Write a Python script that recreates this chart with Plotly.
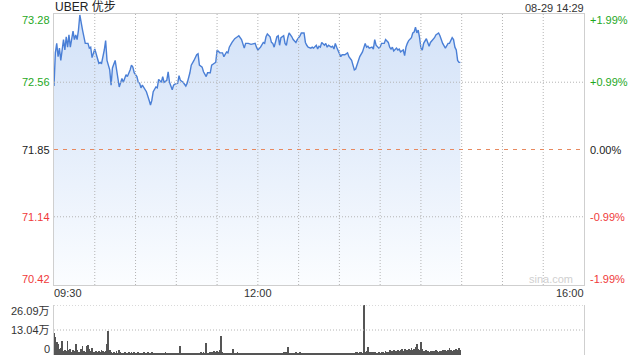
import plotly.graph_objects as go

# ---------------- data ----------------
TITLE = "UBER 优步"
STAMP = "08-29 14:29"
PREV_CLOSE = 71.85

# minutes after 09:30 and last price
TIME_MIN = [0, 1, 2, 3, 4, 5, 7, 8, 9, 10, 11, 12, 14, 15, 16, 17, 18, 19, 21, 22,
            23, 25, 26, 27, 28, 30, 31, 33, 34, 35, 37, 38, 39, 41, 42, 43, 45, 46, 47, 48,
            50, 51, 53, 54, 56, 57, 58, 59, 61, 62, 63, 64, 65, 67, 68, 70, 71, 72, 73, 75,
            76, 77, 79, 80, 81, 83, 84, 85, 87, 88, 89, 91, 92, 93, 95, 97, 98, 100, 101, 103,
            105, 106, 107, 109, 110, 112, 113, 115, 116, 118, 119, 120, 122, 123, 124, 125, 127, 128, 129, 131,
            133, 135, 136, 138, 139, 140, 141, 143, 145, 147, 148, 149, 150, 152, 154, 155, 156, 157, 159, 160,
            161, 162, 164, 165, 166, 167, 169, 170, 171, 172, 173, 175, 176, 178, 179, 181, 182, 184, 185, 186,
            187, 189, 190, 191, 193, 194, 195, 196, 197, 199, 200, 201, 202, 204, 205, 206, 207, 208, 210, 211,
            212, 214, 216, 217, 219, 220, 221, 222, 224, 225, 227, 229, 230, 231, 232, 234, 235, 236, 237, 239,
            240, 241, 243, 244, 246, 247, 248, 249, 250, 252, 253, 254, 255, 257, 258, 259, 260, 261, 263, 264,
            265, 266, 267, 268, 269, 270, 271, 272, 274, 275, 276, 277, 279, 280, 281, 283, 284, 285, 286, 288,
            289, 290, 291, 293, 294, 295, 296, 297, 298, 299]
PRICES = [72.52, 72.87, 72.97, 72.83, 72.92, 72.79, 73.01, 72.90, 73.04, 72.93, 73.06, 72.93, 73.10, 73.01, 73.06, 73.01, 73.11, 73.27, 73.11, 73.04,
          72.97, 72.97, 72.92, 72.93, 72.82, 72.91, 72.85, 72.76, 72.77, 72.76, 72.90, 73.00, 72.79, 72.69, 72.53, 72.71, 72.79, 72.69, 72.60, 72.51,
          72.60, 72.56, 72.64, 72.62, 72.69, 72.74, 72.72, 72.66, 72.62, 72.56, 72.55, 72.50, 72.53, 72.48, 72.46, 72.37, 72.32, 72.37, 72.46, 72.51,
          72.50, 72.59, 72.56, 72.62, 72.56, 72.58, 72.67, 72.56, 72.48, 72.53, 72.54, 72.55, 72.63, 72.58, 72.56, 72.52, 72.55, 72.66, 72.74, 72.79,
          72.85, 72.86, 72.74, 72.72, 72.67, 72.62, 72.66, 72.66, 72.74, 72.76, 72.77, 72.90, 72.87, 72.87, 72.87, 72.83, 72.88, 72.87, 72.93, 72.98,
          73.02, 73.04, 73.05, 73.01, 72.97, 72.92, 72.97, 72.97, 72.96, 72.97, 72.97, 72.93, 72.90, 72.93, 72.98, 72.97, 73.04, 73.07, 73.04, 72.98,
          72.97, 72.93, 73.04, 73.05, 72.95, 73.03, 73.05, 72.97, 72.95, 73.03, 73.08, 73.04, 73.01, 72.98, 73.01, 73.05, 73.08, 73.08, 72.98, 72.95,
          72.93, 72.92, 72.93, 72.92, 72.95, 72.91, 72.94, 72.93, 72.98, 72.95, 72.97, 72.93, 72.95, 72.93, 72.94, 72.91, 72.97, 72.93, 72.85, 72.83,
          72.85, 72.85, 72.87, 72.83, 72.79, 72.74, 72.69, 72.70, 72.79, 72.83, 72.88, 72.97, 72.93, 72.94, 72.92, 72.93, 72.91, 73.01, 72.95, 72.92,
          72.93, 72.97, 72.97, 73.01, 72.98, 72.93, 72.91, 72.93, 72.89, 72.92, 72.90, 72.91, 72.88, 72.90, 72.84, 72.93, 72.97, 73.00, 73.03, 73.08,
          73.09, 73.14, 73.08, 73.11, 73.03, 72.92, 72.90, 72.97, 73.02, 72.97, 72.94, 72.98, 73.01, 73.03, 73.06, 73.08, 73.05, 73.01, 72.97, 72.92,
          72.95, 72.97, 72.97, 73.03, 73.01, 72.93, 72.90, 72.79, 72.77, 72.77]

# volume per minute (unit: 万 shares), minutes 0..299
VOLUME_WAN = [
    11.6, 9.5, 6.8, 6.0, 3.2, 3.8, 7.3, 2.3, 2.7, 2.0,
    7.3, 2.5, 3.2, 1.4, 2.7, 2.3, 5.5, 2.7, 1.8, 1.4,
    3.2, 4.5, 2.0, 1.4, 4.5, 5.0, 3.0, 2.0, 3.8, 1.6,
    1.4, 2.0, 1.6, 2.0, 1.4, 2.7, 2.0, 1.5, 2.0, 5.5,
    12.7, 2.7, 1.4, 1.2, 1.8, 1.0, 2.2, 1.2, 2.4, 1.8,
    1.0, 1.3, 1.6, 0.8, 1.2, 1.8, 1.0, 1.4, 1.1, 1.6,
    1.0, 1.2, 1.5, 0.9, 1.3, 1.0, 1.7, 1.2, 0.9, 1.4,
    1.1, 1.0, 1.5, 0.8, 1.2, 1.1, 0.9, 1.3, 1.0, 1.2,
    0.9, 1.1, 1.4, 1.0, 0.8, 1.2, 1.0, 0.9, 1.3, 1.1,
    1.0, 0.8, 1.2, 4.5, 1.0, 1.2, 0.7, 0.9, 0.6, 1.0,
    0.8, 1.1, 0.9, 1.3, 0.8, 1.0, 1.2, 0.9, 1.4, 1.1,
    1.6, 1.2, 6.3, 1.3, 1.0, 1.5, 1.8, 1.2, 2.0, 1.5,
    2.2, 1.6, 2.4, 9.8, 1.5, 1.2, 1.0, 0.8, 1.0, 1.2,
    0.9, 1.3, 3.2, 1.0, 1.2, 1.5, 0.9, 1.0, 0.8, 1.0,
    1.1, 0.7, 0.9, 0.8, 1.2, 0.7, 1.0, 0.6, 0.9, 0.8,
    1.0, 0.7, 0.8, 1.1, 0.6, 1.0, 1.3, 0.8, 1.0, 0.7,
    0.9, 0.8, 1.2, 0.7, 1.0, 0.9, 1.1, 0.8, 1.3, 1.5,
    1.2, 1.6, 4.0, 1.2, 0.9, 1.0, 1.3, 0.8, 1.6, 1.2,
    1.0, 1.5, 1.2, 0.8, 1.0, 0.9, 1.1, 0.7, 0.9, 1.0,
    0.8, 1.2, 0.7, 0.9, 1.0, 0.8, 1.1, 0.6, 0.9, 0.8,
    1.0, 0.7, 0.9, 1.2, 0.8, 1.0, 0.7, 0.9, 1.1, 0.8,
    1.0, 0.8, 1.2, 0.9, 0.7, 1.0, 1.3, 0.8, 1.1, 0.9,
    1.2, 1.0, 1.4, 1.6, 1.2, 1.8, 1.5, 1.3, 26.09, 1.6,
    2.0, 4.1, 1.5, 1.8, 1.2, 1.4, 1.6, 1.0, 1.3, 1.6,
    1.2, 1.5, 1.8, 1.3, 2.0, 1.6, 1.4, 2.4, 1.8, 2.2,
    2.6, 1.9, 2.3, 2.8, 2.0, 2.4, 2.9, 2.2, 3.2, 2.6,
    2.4, 3.0, 2.7, 3.6, 2.5, 3.3, 4.0, 5.9, 3.0, 2.6,
    6.6, 3.0, 2.2, 2.0, 2.4, 2.1, 1.8, 2.3, 2.0, 2.2,
    1.9, 2.4, 2.1, 1.8, 2.3, 2.0, 2.5, 2.2, 2.6, 2.0,
    2.4, 3.5, 2.6, 2.2, 2.8, 2.4, 3.0, 2.6, 3.9, 2.8,
]
VOLUME_MIN = list(range(len(VOLUME_WAN)))

PRICE_TICKS = [73.28, 72.56, 71.85, 71.14, 70.42]
PCT_LABELS = ["+1.99%", "+0.99%", "0.00%", "-0.99%", "-1.99%"]
VOL_TICKS = [26.09, 13.04, 0]
VOL_LABELS = ["26.09万", "13.04万", "0"]
TIME_TICK_MIN = [0, 150, 390]
TIME_LABELS = ["09:30", "12:00", "16:00"]
SESSION_MIN = 390
GRID_STEP_MIN = 30

# ---------------- style ----------------
FONT = "Liberation Sans, Arial, Noto Sans CJK SC, sans-serif"
GREEN = "#1ea81e"
RED = "#f03a3a"
DARK = "#222222"
BORDER = "#cfcfcf"
GRID = "#b4b4b4"
DOT = "1px,2px"

fig = go.Figure()
fig.add_trace(go.Scatter(
    x=TIME_MIN, y=PRICES, mode="lines",
    line=dict(color="#4a7fd6", width=1.4),
    fill="tozeroy",
    fillgradient=dict(type="vertical",
                      colorscale=[[0, "#fbfdff"], [0.5, "#e5eefb"], [1, "#d3e2f8"]],
                      start=PRICE_TICKS[-1], stop=PRICE_TICKS[0]),
    xaxis="x", yaxis="y", hoverinfo="skip"))
fig.add_trace(go.Bar(
    x=VOLUME_MIN, y=VOLUME_WAN, width=0.6,
    marker=dict(color="#555555", line=dict(width=0)),
    xaxis="x2", yaxis="y2", hoverinfo="skip"))

price_bottom = 70 / 341
vol_top = 50 / 341

fig.update_layout(
    width=640, height=360,
    margin=dict(l=54, r=56, t=14, b=5),
    paper_bgcolor="white", plot_bgcolor="rgba(0,0,0,0)",
    showlegend=False, bargap=0,
    font=dict(family=FONT, size=11, color=DARK),
    xaxis=dict(domain=[0, 1], range=[0, SESSION_MIN], anchor="y",
               showgrid=False, showticklabels=False, ticks="", zeroline=False,
               showline=True, linecolor=BORDER, linewidth=1, mirror=True),
    yaxis=dict(domain=[price_bottom, 1], range=[PRICE_TICKS[-1], PRICE_TICKS[0]],
               showgrid=False, showticklabels=False, ticks="", zeroline=False,
               showline=True, linecolor=BORDER, linewidth=1, mirror=True),
    xaxis2=dict(domain=[0, 1], range=[0, SESSION_MIN], anchor="y2",
                showgrid=False, showticklabels=False, ticks="",
                zeroline=False, showline=False),
    yaxis2=dict(domain=[0, vol_top], range=[0, VOL_TICKS[0]],
                showgrid=False, showticklabels=False, ticks="", zeroline=False,
                showline=True, linecolor=BORDER, linewidth=1, mirror=True),
)

# dotted grid drawn over the fill
grid_line = dict(color=GRID, width=1, dash=DOT)
for m in range(GRID_STEP_MIN, SESSION_MIN, GRID_STEP_MIN):
    fig.add_shape(type="line", xref="x", yref="y", x0=m, x1=m,
                  y0=PRICE_TICKS[-1], y1=PRICE_TICKS[0], layer="above", line=grid_line)
for v in (PRICE_TICKS[1], PRICE_TICKS[3]):
    fig.add_shape(type="line", xref="x", yref="y", x0=0, x1=SESSION_MIN,
                  y0=v, y1=v, layer="above", line=grid_line)
for v in (VOL_TICKS[0], VOL_TICKS[1]):
    fig.add_shape(type="line", xref="x2", yref="y2", x0=0, x1=SESSION_MIN,
                  y0=v, y1=v, layer="above", line=grid_line)

fig.add_shape(type="line", xref="x", yref="y", x0=0, x1=SESSION_MIN,
              y0=PREV_CLOSE, y1=PREV_CLOSE, layer="above",
              line=dict(color="#e8895f", width=1, dash="4px,5px"))

ann = []
def A(**kw):
    base = dict(showarrow=False, borderpad=0, borderwidth=0,
                font=dict(family=FONT, size=11, color=DARK))
    base.update(kw)
    ann.append(base)

n = len(PRICE_TICKS)
for i, (v, p) in enumerate(zip(PRICE_TICKS, PCT_LABELS)):
    if v > PREV_CLOSE:
        col = GREEN
    elif v < PREV_CLOSE:
        col = RED
    else:
        col = DARK
    ya = "top" if i == 0 else ("bottom" if i == n - 1 else "middle")
    A(text=f"{v:.2f}", xref="paper", x=0, xanchor="right", xshift=-4,
      yref="y", y=v, yanchor=ya, font=dict(family=FONT, size=11, color=col))
    A(text=p, xref="paper", x=1, xanchor="left", xshift=6,
      yref="y", y=v, yanchor=ya, font=dict(family=FONT, size=11, color=col))

for i, (v, t) in enumerate(zip(VOL_TICKS, VOL_LABELS)):
    ya = "top" if i == 0 else ("bottom" if i == len(VOL_TICKS) - 1 else "middle")
    A(text=t, xref="paper", x=0, xanchor="right", xshift=-4,
      yref="y2", y=v, yanchor=ya, font=dict(family=FONT, size=11, color="#333333"))

for i, (m, t) in enumerate(zip(TIME_TICK_MIN, TIME_LABELS)):
    xa = "left" if i == 0 else ("right" if i == len(TIME_LABELS) - 1 else "center")
    A(text=t, xref="x", x=m, xanchor=xa, yref="paper", y=(355 - 293) / 341,
      yanchor="middle", font=dict(family=FONT, size=11, color="#333333"))

A(text=TITLE, xref="paper", x=0, xanchor="left", xshift=1,
  yref="paper", y=1, yanchor="bottom", yshift=0,
  font=dict(family=FONT, size=12, color="#222222"))
A(text=STAMP, xref="paper", x=1, xanchor="right",
  yref="paper", y=1, yanchor="bottom", yshift=0,
  font=dict(family=FONT, size=11, color="#333333"))
A(text="sina.com", xref="paper", x=1, xanchor="right", xshift=-11,
  yref="y", y=PRICE_TICKS[-1], yanchor="bottom", yshift=0,
  font=dict(family=FONT, size=11, color="#d0d0d0"))

fig.update_layout(annotations=ann)
fig.write_html("out.html")
